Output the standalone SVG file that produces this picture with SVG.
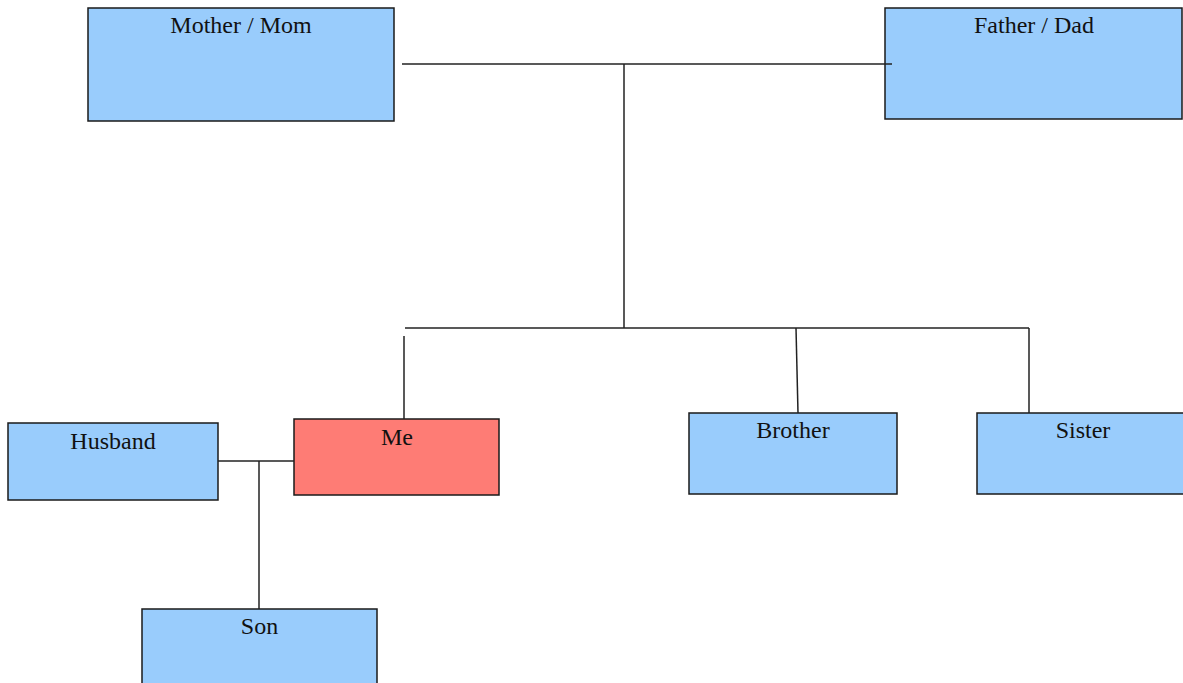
<svg xmlns="http://www.w3.org/2000/svg" width="1183" height="683" viewBox="0 0 1183 683">
<style>
.box{fill:#99ccfc;stroke:#1a1a1a;stroke-width:1.5}
.me{fill:#fe7c75;stroke:#1a1a1a;stroke-width:1.5}
.lbl{font-family:"Liberation Serif","Times New Roman",serif;font-size:24px;fill:#111;text-anchor:middle}
.ln{stroke:#222;stroke-width:1.5;fill:none}
</style>
<rect width="1183" height="683" fill="#fff"/>
<g id="mother"><rect class="box" x="88" y="8" width="306" height="113"/><text class="lbl" x="241" y="33">Mother / Mom</text></g>
<g id="father"><rect class="box" x="885" y="8" width="297" height="111"/><text class="lbl" x="1034" y="33">Father / Dad</text></g>
<g id="me"><rect class="me" x="294" y="419" width="205" height="76"/><text class="lbl" x="397" y="445">Me</text></g>
<g id="husband"><rect class="box" x="8" y="423" width="210" height="77"/><text class="lbl" x="113" y="449">Husband</text></g>
<g id="brother"><rect class="box" x="689" y="413" width="208" height="81"/><text class="lbl" x="793" y="438">Brother</text></g>
<g id="sister"><rect class="box" x="977" y="413" width="212" height="81"/><text class="lbl" x="1083" y="438">Sister</text></g>
<g id="son"><rect class="box" x="142" y="609" width="235" height="90"/><text class="lbl" x="259.5" y="634">Son</text></g>
<g id="connectors">
<line class="ln" x1="402" y1="64" x2="892" y2="64"/>
<line class="ln" x1="624" y1="64" x2="624" y2="328"/>
<line class="ln" x1="405" y1="328" x2="1029" y2="328"/>
<line class="ln" x1="404" y1="336" x2="404" y2="419"/>
<line class="ln" x1="796" y1="328" x2="798" y2="413"/>
<line class="ln" x1="1029" y1="328" x2="1029" y2="413"/>
<line class="ln" x1="218" y1="461" x2="294" y2="461"/>
<line class="ln" x1="259" y1="461" x2="259" y2="609"/>
</g>
</svg>
